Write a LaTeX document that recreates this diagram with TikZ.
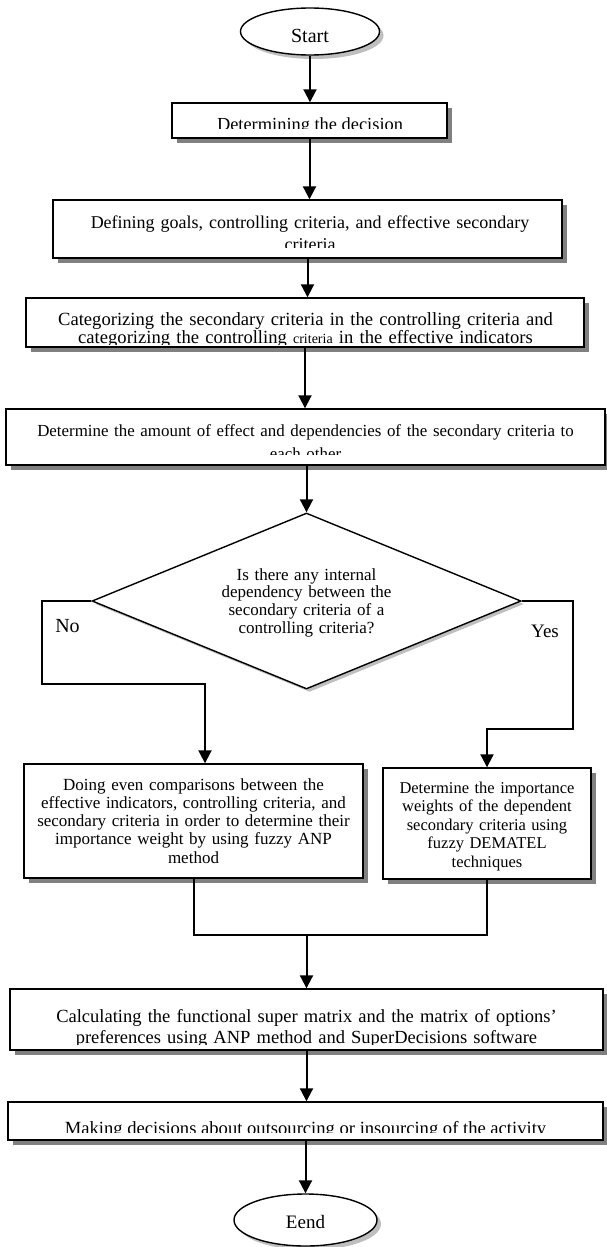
\documentclass[tikz,border=0pt]{standalone}
\usepackage{fontspec}
\setmainfont{Liberation Serif}
\usetikzlibrary{shapes.geometric,arrows.meta,shadows}
\begin{document}
\begin{tikzpicture}[x=1pt,y=-1pt,
  boxshape/.style={draw=black, line width=1.4pt, fill=white, rectangle, inner sep=0pt,
     drop shadow={shadow xshift=5pt,shadow yshift=-5pt,fill=black!50,opacity=1}},
  termshape/.style={draw=black, line width=1.4pt, fill=white, ellipse, inner sep=0pt,
     drop shadow={shadow xshift=4pt,shadow yshift=-4pt,fill=black!25,opacity=1}},
  decshape/.style={draw=black, line width=1.4pt, fill=white, diamond, inner sep=0pt, aspect=2.44,
     drop shadow={shadow xshift=3pt,shadow yshift=-3pt,fill=black!25,opacity=1}},
  txt/.style={anchor=base, inner sep=0pt, align=center},
  arrowline/.style={line width=2pt, -{Triangle[length=13pt,width=13pt]}},
  plainline/.style={line width=2pt},
]
\useasboundingbox (0,0) rectangle (606,1247);

% terminals
\node[termshape, minimum width=139pt, minimum height=47pt, text height=22pt, text depth=0pt,
      font=\fontsize{20}{24}\selectfont] (start) at (310,31.5) {Start};
\node[termshape, minimum width=143pt, minimum height=52pt, text height=16pt, text depth=0pt,
      font=\fontsize{19}{23}\selectfont] (end) at (305.5,1220) {Eend};

% boxes
\node[boxshape, minimum width=275pt, minimum height=35pt] (b1) at (309.5,120.5) {};
\node[boxshape, minimum width=509pt, minimum height=58pt] (b2) at (307.5,229) {};
\node[boxshape, minimum width=558pt, minimum height=49pt] (b3) at (305,322.5) {};
\node[boxshape, minimum width=599pt, minimum height=56pt] (b4) at (305.5,437) {};
\node[decshape, minimum width=429pt, minimum height=176pt] (dia) at (306.5,601) {};
\node[boxshape, minimum width=339pt, minimum height=114pt] (b5) at (193.5,821) {};
\node[boxshape, minimum width=208pt, minimum height=111pt] (b6) at (487,823.5) {};
\node[boxshape, minimum width=593pt, minimum height=61pt] (b7) at (306.5,1019.5) {};
\node[boxshape, minimum width=595pt, minimum height=38pt] (b8) at (305.5,1121) {};

% texts (clipped where the reference cuts them)
\begin{scope}
\clip (b1.north west) rectangle ([yshift=10pt]b1.south east);
\node[txt, font=\fontsize{18.4}{22}\selectfont] (t1) at (310,130) {Determining the decision};
\end{scope}
\begin{scope}
\clip (b2.north west) rectangle ([yshift=11pt]b2.south east);
\node[txt, text width=490pt, font=\fontsize{18}{22}\selectfont] (t2) at (310,228)
  {Defining goals, controlling criteria, and effective secondary\\ criteria};
\end{scope}
\begin{scope}
\clip (b3.north west) rectangle ([yshift=3pt]b3.south east);
\node[txt, text width=550pt, font=\fontsize{18.6}{18}\selectfont] (t3) at (305.5,325)
  {Categorizing the secondary criteria in the controlling criteria and\\ categorizing the controlling {\fontsize{14}{18}\selectfont criteria} in the effective indicators};
\end{scope}
\begin{scope}
\clip (b4.north west) rectangle ([yshift=11pt]b4.south east);
\node[txt, text width=590pt, font=\fontsize{16.9}{23}\selectfont] (t4) at (305.5,436)
  {Determine the amount of effect and dependencies of the secondary criteria to\\ each other};
\end{scope}
\node[txt, text width=230pt, font=\fontsize{17}{17.7}\selectfont] (tq) at (306.5,580)
  {Is there any internal\\ dependency between the\\ secondary criteria of a\\ controlling criteria?};
\node[txt, text width=330pt, font=\fontsize{17}{18.3}\selectfont] (t5) at (193.5,790)
  {Doing even comparisons between the\\ effective indicators, controlling criteria, and\\ secondary criteria in order to determine their\\ importance weight by using fuzzy ANP\\ method};
\node[txt, text width=200pt, font=\fontsize{16.5}{18.5}\selectfont] (t6) at (487,793)
  {Determine the importance\\ weights of the dependent\\ secondary criteria using\\ fuzzy DEMATEL\\ techniques};
\begin{scope}
\clip (b7.north west) rectangle ([yshift=6pt]b7.south east);
\node[txt, text width=585pt, font=\fontsize{18.5}{21}\selectfont] (t7) at (306.5,1022)
  {Calculating the functional super matrix and the matrix of options’\\ preferences using ANP method and SuperDecisions software};
\end{scope}
\begin{scope}
\clip (b8.north west) rectangle ([yshift=8pt]b8.south east);
\node[txt, font=\fontsize{18.6}{22}\selectfont] (t8) at (305.5,1134)
  {Making decisions about outsourcing or insourcing of the activity};
\end{scope}

\node[txt, font=\fontsize{20}{24}\selectfont] (nolab) at (67.5,632) {No};
\node[txt, font=\fontsize{19}{23}\selectfont] (yeslab) at (545,637) {Yes};

% connectors
\draw[arrowline] (start.south) -- (start.south |- b1.north);
\draw[arrowline] (b1.south) -- (b1.south |- b2.north);
\draw[arrowline] (b2.south) -- (b2.south |- b3.north);
\draw[arrowline] (b3.south) -- (b3.south |- b4.north);
\draw[arrowline] (dia.north |- b4.south) -- (dia.north);

\coordinate (no1) at (42,684);
\coordinate (no2) at (205,684);
\draw[arrowline, line join=miter] (dia.west) -| (no1) -- (no2) -- (no2 |- b5.north);

\coordinate (yes1) at (573,729);
\coordinate (yes2) at (487,729);
\draw[arrowline, line join=miter] (dia.east) -| (yes1) -- (yes2) -- (b6.north);

\coordinate (mj) at (306.5,935);
\draw[plainline, line join=miter] (b5.south) -- (b5.south |- mj) -- (b6.south |- mj) -- (b6.south);
\draw[arrowline] (mj) -- (mj |- b7.north);
\draw[arrowline] (b7.south) -- (b7.south |- b8.north);
\draw[arrowline] (b8.south) -- (b8.south |- end.north);
\end{tikzpicture}
\end{document}
